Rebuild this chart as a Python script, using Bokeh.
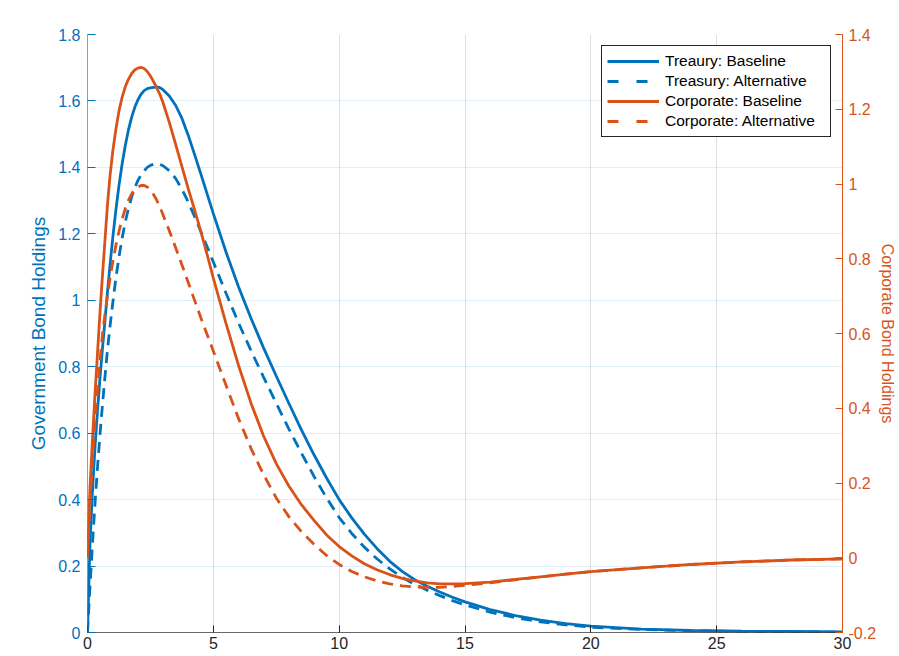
from bokeh.plotting import figure
from bokeh.models import (Range1d, LinearAxis, FixedTicker, NumeralTickFormatter,
                          Legend, LegendItem)
from bokeh.embed import file_html
from bokeh.resources import INLINE

# Horizon (quarters) and impulse responses of bond holdings
quarters = [0, 0.1, 0.2, 0.3, 0.4, 0.5, 0.6, 0.7, 0.8, 0.9,
            1.0, 1.125, 1.25, 1.375, 1.5, 1.625, 1.75, 1.875,
            2.0, 2.125, 2.25, 2.375, 2.5, 2.625, 2.75, 2.875,
            3.0, 3.25, 3.5, 3.75, 4.0, 4.25, 4.5, 4.75,
            5.0, 5.5, 6.0, 6.5, 7.0, 7.5, 8.0, 8.5, 9.0, 9.5,
            10, 10.5, 11, 11.5, 12, 12.5, 13, 13.5, 14, 14.5,
            15, 16, 17, 18, 19, 20, 22, 24, 26, 28, 30]

treasury_baseline = [0, 0.27, 0.43, 0.56, 0.67, 0.77, 0.86, 0.945, 1.03, 1.11,
                     1.185, 1.27, 1.345, 1.41, 1.465, 1.512, 1.55, 1.58,
                     1.603, 1.62, 1.631, 1.637, 1.639, 1.641, 1.642, 1.64,
                     1.634, 1.615, 1.587, 1.548, 1.497, 1.44, 1.381, 1.321,
                     1.261, 1.146, 1.041, 0.945, 0.856, 0.772, 0.69, 0.61, 0.535, 0.465,
                     0.40, 0.345, 0.296, 0.253, 0.215, 0.184, 0.159, 0.139, 0.122, 0.106,
                     0.092, 0.069, 0.051, 0.037, 0.027, 0.019, 0.01, 0.006, 0.004, 0.003, 0.002]

treasury_alternative = [0, 0.14, 0.27, 0.39, 0.5, 0.6, 0.69, 0.775, 0.855, 0.925,
                        0.99, 1.065, 1.13, 1.187, 1.235, 1.276, 1.31, 1.338,
                        1.36, 1.377, 1.39, 1.4, 1.406, 1.41, 1.411, 1.409,
                        1.405, 1.39, 1.367, 1.335, 1.296, 1.253, 1.208, 1.162,
                        1.115, 1.022, 0.932, 0.848, 0.768, 0.69, 0.613, 0.54, 0.47, 0.405,
                        0.346, 0.298, 0.257, 0.222, 0.192, 0.166, 0.145, 0.127, 0.111, 0.096,
                        0.083, 0.061, 0.045, 0.032, 0.023, 0.016, 0.009, 0.005, 0.003, 0.002, 0.001]

corporate_baseline = [0, 0.19, 0.32, 0.44, 0.55, 0.66, 0.76, 0.855, 0.95, 1.025,
                      1.085, 1.145, 1.195, 1.232, 1.26, 1.28, 1.295, 1.305,
                      1.31, 1.312, 1.309, 1.301, 1.289, 1.274, 1.257, 1.24,
                      1.218, 1.165, 1.107, 1.047, 0.988, 0.932, 0.874, 0.812,
                      0.748, 0.628, 0.515, 0.413, 0.325, 0.252, 0.192, 0.142, 0.1, 0.061,
                      0.03, 0.005, -0.016, -0.032, -0.045, -0.055, -0.062, -0.067, -0.07, -0.07,
                      -0.069, -0.065, -0.058, -0.051, -0.044, -0.037, -0.027, -0.018, -0.011, -0.006, -0.003]

corporate_alternative = [0, 0.14, 0.26, 0.36, 0.45, 0.53, 0.6, 0.655, 0.705, 0.75,
                         0.79, 0.835, 0.873, 0.906, 0.934, 0.956, 0.973, 0.985,
                         0.992, 0.996, 0.996, 0.992, 0.984, 0.972, 0.957, 0.939,
                         0.918, 0.875, 0.83, 0.784, 0.737, 0.69, 0.643, 0.598,
                         0.553, 0.462, 0.373, 0.292, 0.222, 0.16, 0.11, 0.07, 0.036, 0.006,
                         -0.018, -0.037, -0.051, -0.062, -0.07, -0.075, -0.078, -0.079, -0.079, -0.077,
                         -0.074, -0.067, -0.059, -0.051, -0.044, -0.037, -0.027, -0.018, -0.011, -0.006, -0.003]

series_labels = ["Treaury: Baseline", "Treasury: Alternative",
                 "Corporate: Baseline", "Corporate: Alternative"]

x_ticks = [0, 5, 10, 15, 20, 25, 30]
gov_ticks = [0, 0.2, 0.4, 0.6, 0.8, 1.0, 1.2, 1.4, 1.6, 1.8]
corp_ticks = [-0.2, 0, 0.2, 0.4, 0.6, 0.8, 1.0, 1.2, 1.4]

BLUE = "#0072BD"
ORANGE = "#D95319"
DARK = "#262626"
FONT = "Liberation Sans"
DASH = "11 7"
KEY_DASH = "11 18"
LW = 2.8

p = figure(width=899, height=656,
           x_range=Range1d(0, 30), y_range=Range1d(0, 1.8),
           output_backend="svg", toolbar_location=None,
           min_border_left=87, min_border_right=56,
           min_border_top=34, min_border_bottom=24,
           outline_line_color=None, background_fill_color="white",
           border_fill_color="white")
p.extra_y_ranges = {"corp": Range1d(-0.2, 1.4)}

# bottom axis
xa = p.xaxis[0]
xa.ticker = FixedTicker(ticks=x_ticks)
xa.formatter = NumeralTickFormatter(format="0")
xa.major_tick_in = 7
xa.major_tick_out = 0
xa.minor_tick_line_color = None
xa.axis_line_color = DARK
xa.axis_line_alpha = 0.7
xa.major_tick_line_color = DARK
xa.major_label_text_color = DARK
xa.major_label_text_font = FONT
xa.major_label_text_font_size = "16px"
xa.major_label_standoff = 4

# left axis: government bonds
ya = p.yaxis[0]
ya.ticker = FixedTicker(ticks=gov_ticks)
ya.formatter = NumeralTickFormatter(format="0.[0]")
ya.major_tick_in = 8
ya.major_tick_out = 0
ya.minor_tick_line_color = None
ya.axis_line_color = BLUE
ya.axis_line_alpha = 0.6
ya.major_tick_line_color = BLUE
ya.major_label_text_color = BLUE
ya.major_label_text_font = FONT
ya.major_label_text_font_size = "16px"
ya.major_label_standoff = 7
ya.axis_label = "Government Bond Holdings"
ya.axis_label_text_color = BLUE
ya.axis_label_text_font = FONT
ya.axis_label_text_font_size = "19px"
ya.axis_label_text_font_style = "normal"
ya.axis_label_standoff = 6

# right axis: corporate bonds
ra = LinearAxis(y_range_name="corp",
                ticker=FixedTicker(ticks=corp_ticks),
                formatter=NumeralTickFormatter(format="0.[0]"))
ra.major_tick_in = 7
ra.major_tick_out = 0
ra.minor_tick_line_color = None
ra.axis_line_color = ORANGE
ra.major_tick_line_color = ORANGE
ra.major_label_text_color = ORANGE
ra.major_label_text_font = FONT
ra.major_label_text_font_size = "16px"
ra.major_label_standoff = 6
ra.axis_label = "Corporate Bond Holdings"
ra.axis_label_text_color = ORANGE
ra.axis_label_text_font = FONT
ra.axis_label_text_font_size = "16px"
ra.axis_label_text_font_style = "normal"
ra.axis_label_standoff = 0
p.add_layout(ra, "right")

# grids
p.xgrid.grid_line_color = DARK
p.xgrid.grid_line_alpha = 0.15
p.ygrid.grid_line_color = BLUE
p.ygrid.grid_line_alpha = 0.12

p.line(quarters, treasury_baseline, line_color=BLUE, line_width=LW)
p.line(quarters, treasury_alternative, line_color=BLUE, line_width=LW,
       line_dash=DASH)
p.line(quarters, corporate_baseline, line_color=ORANGE, line_width=LW,
       y_range_name="corp")
p.line(quarters, corporate_alternative, line_color=ORANGE, line_width=LW,
       line_dash=DASH, y_range_name="corp")

# legend keys: one-point lines (draw nothing in the plot) carrying the key styles
key_series = [(treasury_baseline, BLUE, "solid", "default"),
              (treasury_alternative, BLUE, KEY_DASH, "default"),
              (corporate_baseline, ORANGE, "solid", "corp"),
              (corporate_alternative, ORANGE, KEY_DASH, "corp")]
items = []
for label, (vals, color, dash, yr) in zip(series_labels, key_series):
    r = p.line(x=quarters[:1], y=vals[:1], line_color=color, line_width=LW,
               line_dash=dash, y_range_name=yr)
    items.append(LegendItem(label=label, renderers=[r]))

legend = Legend(items=items, location="top_right")
legend.border_line_color = DARK
legend.border_line_width = 1
legend.border_line_alpha = 1
legend.background_fill_color = "white"
legend.background_fill_alpha = 1
legend.label_text_font = FONT
legend.label_text_font_size = "15.5px"
legend.label_text_color = "#000000"
legend.glyph_width = 52
legend.glyph_height = 20
legend.label_height = 20
legend.label_width = 160
legend.label_standoff = 6
legend.spacing = 0
legend.padding = 5
legend.margin = 11
p.add_layout(legend)

open("out.html", "w").write(file_html(p, INLINE))
